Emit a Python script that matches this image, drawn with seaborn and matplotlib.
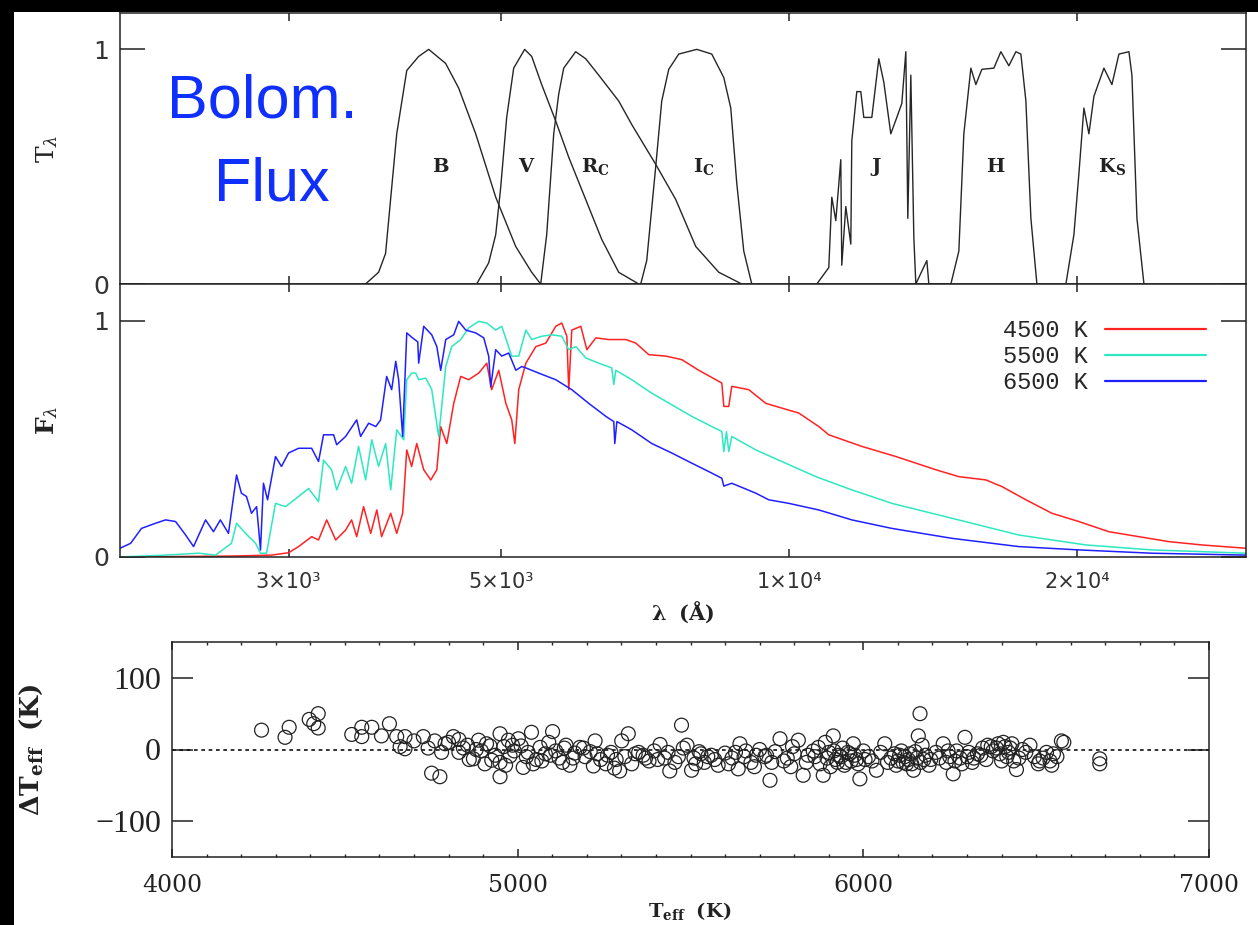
import matplotlib
matplotlib.use("Agg")
import matplotlib.pyplot as plt
import seaborn as sns
import pandas as pd
from matplotlib.patches import Rectangle
from matplotlib.lines import Line2D
from matplotlib.ticker import NullLocator, FixedLocator, MultipleLocator

# ---------------- data: filter transmission curves ----------------
B_wl = [3610, 3725, 3788, 3834, 3891, 3986, 4102, 4202, 4377, 4516, 4705, 4937, 5180, 5383, 5501]
B_tr = [0.0, 0.05, 0.13, 0.36, 0.64, 0.91, 0.97, 1.0, 0.94, 0.835, 0.64, 0.37, 0.16, 0.05, 0.0]
V_wl = [4716, 4854, 4937, 4996, 5069, 5155, 5293, 5383, 5514, 5703, 5885, 6130, 6371, 6636, 6964]
V_tr = [0.0, 0.09, 0.21, 0.41, 0.71, 0.92, 1.0, 0.97, 0.85, 0.695, 0.54, 0.36, 0.19, 0.05, 0.0]
R_wl = [5501, 5581, 5676, 5745, 5814, 5984, 6130, 6325, 6636, 6847, 7254, 7612, 7987, 8442, 8922]
R_tr = [0.0, 0.21, 0.64, 0.81, 0.92, 0.99, 0.96, 0.89, 0.78, 0.68, 0.51, 0.36, 0.16, 0.05, 0.0]
I_wl = [6997, 7099, 7254, 7360, 7485, 7667, 8007, 8301, 8544, 8689, 8815, 8965, 9139]
I_tr = [0.0, 0.10, 0.50, 0.78, 0.915, 0.98, 1.0, 0.98, 0.88, 0.75, 0.43, 0.14, 0.0]
J_wl = [10686, 10999, 11079, 11186, 11321, 11348, 11458, 11597, 11625, 11765, 11879, 11965, 12198,
        12405, 12555, 12768, 12954, 13111, 13238, 13301, 13398, 13495, 13560, 13924, 13991, 14575]
J_tr = [0.0, 0.07, 0.37, 0.27, 0.53, 0.08, 0.33, 0.17, 0.61, 0.82, 0.82, 0.71, 0.71,
        0.96, 0.86, 0.64, 0.71, 0.77, 0.99, 0.28, 0.89, 0.20, 0.0, 0.10, 0.0, 0.0]
H_wl = [14752, 15038, 15220, 15479, 15666, 15894, 16360, 16637, 16961, 17249, 17458, 17669, 17883, 18143]
H_tr = [0.0, 0.14, 0.64, 0.92, 0.85, 0.915, 0.92, 0.99, 0.93, 0.99, 0.98, 0.78, 0.28, 0.0]
K_wl = [19454, 19832, 20072, 20315, 20561, 20810, 21317, 21731, 22100, 22638, 22802, 23078, 23470]
K_tr = [0.0, 0.21, 0.47, 0.75, 0.64, 0.80, 0.92, 0.85, 0.98, 0.99, 0.89, 0.28, 0.0]

band_names = [r"$\mathbf{B}$", r"$\mathbf{V}$", r"$\mathbf{R_C}$", r"$\mathbf{I_C}$",
              r"$\mathbf{J}$", r"$\mathbf{H}$", r"$\mathbf{K_S}$"]
band_label_wl = [4325, 5319, 6280, 8143, 12316, 16440, 21731]
band_label_y = 0.50

# ---------------- data: normalised model spectra ----------------
T6500_wl = [2000, 2052, 2106, 2179, 2232, 2286, 2342, 2387, 2457, 2504, 2546, 2596, 2647, 2678, 2711,
            2744, 2778, 2804, 2824, 2852, 2907, 2949, 3000, 3073, 3171, 3224, 3263, 3343, 3368, 3441,
            3534, 3567, 3637, 3700, 3743, 3798, 3844, 3882, 3909, 3947, 3986, 4033, 4093, 4102, 4152,
            4233, 4285, 4325, 4378, 4463, 4516, 4594, 4706, 4797, 4854, 4878, 4937, 5009, 5094, 5182,
            5256, 5308, 5475, 5704, 5928, 6175, 6434, 6558, 6574, 6607, 6848, 7186, 7540, 7911, 8301,
            8504, 8545, 8710, 9229, 9520, 9990, 10738, 11625, 12800, 14787, 17373, 20070, 23924, 30000]
T6500_fl = [0.037, 0.058, 0.121, 0.143, 0.157, 0.15, 0.093, 0.044, 0.157, 0.107, 0.157, 0.10, 0.347, 0.27, 0.256,
            0.185, 0.213, 0.03, 0.312, 0.242, 0.425, 0.383, 0.44, 0.46, 0.46, 0.404, 0.517, 0.517, 0.475, 0.51,
            0.58, 0.51, 0.566, 0.552, 0.58, 0.764, 0.708, 0.828, 0.75, 0.51, 0.948, 0.93, 0.91, 0.82, 0.976,
            0.94, 0.89, 0.79, 0.92, 0.94, 0.997, 0.96, 0.948, 0.927, 0.85, 0.72, 0.877, 0.85, 0.863, 0.79,
            0.806, 0.80, 0.778, 0.75, 0.708, 0.65, 0.595, 0.573, 0.48, 0.573, 0.538, 0.48, 0.44, 0.397, 0.355,
            0.333, 0.30, 0.312, 0.27, 0.242, 0.227, 0.199, 0.157, 0.121, 0.079, 0.044, 0.03, 0.016, 0.008]

T5500_wl = [2000, 2232, 2415, 2517, 2615, 2647, 2705, 2771, 2804, 2845, 2907, 2978, 3073, 3148, 3224,
            3263, 3327, 3368, 3441, 3491, 3550, 3611, 3664, 3725, 3789, 3835, 3891, 3957, 3986, 4033,
            4073, 4102, 4173, 4233, 4304, 4378, 4441, 4538, 4626, 4739, 4832, 4937, 5009, 5131, 5218,
            5308, 5384, 5515, 5649, 5787, 5885, 5986, 6132, 6325, 6526, 6558, 6590, 6848, 7186, 7540,
            7911, 8301, 8504, 8545, 8600, 8647, 8710, 9229, 9823, 10662, 11625, 12800, 14787, 17373,
            20415, 23924, 30000]
T5500_fl = [0.0, 0.008, 0.016, 0.008, 0.058, 0.143, 0.10, 0.058, 0.016, 0.016, 0.227, 0.213, 0.256, 0.29, 0.234,
            0.41, 0.369, 0.284, 0.383, 0.312, 0.468, 0.326, 0.496, 0.383, 0.48, 0.284, 0.538, 0.496, 0.75, 0.778,
            0.778, 0.75, 0.757, 0.708, 0.51, 0.806, 0.89, 0.92, 0.969, 0.997, 0.99, 0.96, 0.976, 0.85, 0.85,
            0.96, 0.92, 0.934, 0.94, 0.934, 0.877, 0.89, 0.842, 0.82, 0.80, 0.73, 0.79, 0.75, 0.693, 0.644,
            0.595, 0.552, 0.531, 0.446, 0.53, 0.446, 0.51, 0.453, 0.404, 0.34, 0.284, 0.227, 0.164, 0.093,
            0.051, 0.03, 0.016]

T4500_wl = [2000, 2615, 2879, 3000, 3073, 3171, 3224, 3288, 3360, 3441, 3491, 3534, 3593, 3655, 3709,
            3752, 3835, 3891, 3947, 3986, 4033, 4083, 4152, 4223, 4285, 4325, 4389, 4463, 4538, 4626,
            4739, 4832, 4889, 4973, 5059, 5131, 5169, 5218, 5308, 5437, 5569, 5704, 5787, 5858, 5885,
            5928, 6058, 6147, 6281, 6479, 6751, 6915, 7134, 7433, 7723, 8045, 8383, 8504, 8545, 8647,
            8710, 9073, 9454, 9823, 10233, 10738, 10999, 11908, 12926, 14232, 15038, 16050, 16678,
            17672, 18809, 20070, 21572, 23186, 24921, 26982, 30000]
T4500_fl = [0.0, 0.004, 0.008, 0.018, 0.044, 0.086, 0.072, 0.157, 0.072, 0.114, 0.157, 0.086, 0.213, 0.10, 0.199,
            0.086, 0.185, 0.10, 0.185, 0.453, 0.383, 0.48, 0.369, 0.326, 0.369, 0.552, 0.48, 0.65, 0.764, 0.75,
            0.778, 0.82, 0.708, 0.79, 0.65, 0.58, 0.48, 0.708, 0.82, 0.89, 0.905, 0.976, 0.99, 0.934, 0.708,
            0.96, 0.976, 0.877, 0.927, 0.92, 0.92, 0.905, 0.856, 0.85, 0.835, 0.79, 0.75, 0.736, 0.637, 0.637,
            0.722, 0.708, 0.65, 0.63, 0.609, 0.552, 0.517, 0.468, 0.425, 0.369, 0.34, 0.326, 0.298,
            0.242, 0.185, 0.15, 0.107, 0.086, 0.065, 0.051, 0.037]

spec_labels = ["4500 K", "5500 K", "6500 K"]
spec_colors = ["#ff2222", "#2de8c0", "#2020ff"]

# ---------------- data: Teff residuals ----------------
Teff = [4259, 4327, 4339, 4397, 4410, 4423, 4423, 4520, 4549, 4549, 4578, 4606, 4629, 4650, 4660,
        4674, 4674, 4700, 4727, 4741, 4751, 4760, 4775, 4780, 4790, 4800, 4814, 4830, 4843, 4855,
        4872, 4887, 4895, 4905, 4920, 4935, 4949, 4949, 4949, 4960, 4973, 4978, 4990, 5002, 5010,
        5016, 5025, 5040, 5054, 5065, 5080, 5090, 5101, 5110, 5120, 5135, 5151, 5165, 5180, 5195,
        5210, 5224, 5219, 5240, 5255, 5270, 5280, 5295, 5301, 5310, 5320, 5340, 5363, 5380, 5395,
        5412, 5425, 5440, 5455, 5474, 5479, 5490, 5503, 5510, 5525, 5540, 5560, 5580, 5600, 5620,
        5643, 5638, 5660, 5675, 5690, 5700, 5715, 5730, 5745, 5759, 5770, 5790, 5800, 5812, 5826,
        5840, 5855, 5870, 5884, 5890, 5900, 5913, 5920, 5930, 5940, 5950, 5960, 5971, 5980, 5990,
        6000, 6015, 6038, 6050, 6062, 6080, 6090, 6100, 6110, 6120, 6130, 6140, 6145, 6150, 6159,
        6164, 6170, 6180, 6195, 6210, 6231, 6240, 6250, 6260, 6270, 6280, 6294, 6305, 6315, 6330,
        6345, 6360, 6375, 6390, 6400, 6410, 6420, 6430, 6443, 6450, 6460, 6482, 6495, 6506, 6520,
        6540, 6550, 6573, 6580, 6684, 6684,
        4830, 4860, 4880, 4910, 4925, 4965, 4985, 5030, 5045, 5070, 5095, 5130, 5140, 5160, 5190,
        5230, 5260, 5285, 5330, 5350, 5370, 5405, 5435, 5465, 5515, 5530, 5550, 5570, 5610, 5630,
        5655, 5685, 5720, 5735, 5780, 5795, 5835, 5860, 5875, 5895, 5905, 5915, 5925, 5935, 5945,
        5955, 5965, 5975, 5985, 6005, 6025, 6070, 6095, 6105, 6115, 6125, 6135, 6155, 6165, 6175,
        6190, 6220, 6245, 6265, 6285, 6300, 6320, 6340, 6355, 6370, 6385, 6395, 6405, 6415, 6425,
        6435, 6470, 6510, 6530, 6545, 6560]
dTeff = [27, 17, 31, 42, 36, 50, 30, 21, 31, 18, 31, 19, 36, 18, 4,
         18, 1, 12, 18, 2, -33, 12, -38, -4, 8, 10, 18, 14, 2, 6,
         -13, 13, -2, -20, 5, -8, 22, -18, -38, 4, 13, -9, -2, 15, 5,
         -25, -10, 24, -14, 3, -6, 10, 25, -2, -12, 2, -22, -5, 3, -10,
         -3, 12, -23, -14, -20, -4, -26, -30, 12, -10, 22, -6, -8, -16, -2,
         7, -12, -30, -18, 34, 2, 6, -29, -12, -3, -18, -8, -22, -5, -12,
         8, -27, -2, -18, -8, 0, -10, -43, -3, 15, -16, -24, -6, 13, -36,
         -8, -2, 3, -36, 10, -4, 19, -14, -8, 2, -18, -6, 8, -14, -41,
         -2, -10, -29, -4, 8, -12, -6, -16, -2, -10, -14, -20, -29, -3, 19,
         50, 6, -8, -14, -4, 8, -18, -10, -34, -2, -12, 17, -4, -18, -6,
         2, 6, -2, 8, -16, 4, -4, 8, -28, -12, 0, 6, -10, -20, -12,
         -16, -6, 12, 10, -13, -20,
         -4, -14, 0, 8, -15, -22, 6, -4, -20, -16, -8, -18, 6, -12, 2,
         -6, -8, -14, -20, -4, -12, -14, -4, -10, -20, -6, -10, -14, -20, -4,
         -10, -24, -8, -18, -12, 4, -18, -10, -20, -12, -24, -2, -18, -10, -22,
         -4, -16, -8, -20, -14, -16, -18, -22, -8, -18, -20, -6, -12, -18, -14,
         -22, -12, -2, -16, -20, -10, -12, -8, -14, 4, 2, -6, 10, -10, 2,
         -16, -4, -16, -4, -22, -10]

# ---------------- style ----------------
sns.set_style("ticks")
plt.rcParams["font.family"] = ["DejaVu Sans"]
plt.rcParams["mathtext.fontset"] = "dejavuserif"
plt.rcParams["axes.linewidth"] = 1.1
plt.rcParams["axes.edgecolor"] = "#222222"

W, H = 1258, 925
fig = plt.figure(figsize=(W / 100, H / 100), dpi=100, facecolor="black")
fig.add_artist(Rectangle((14 / W, 0), 1 - 14 / W, 1 - 12 / H, transform=fig.transFigure,
                         facecolor="white", edgecolor="none", zorder=-10))

ax1 = fig.add_axes([120 / W, 1 - 284 / H, 1126 / W, 271 / H])
ax2 = fig.add_axes([120 / W, 1 - 557 / H, 1126 / W, 273 / H])
ax3 = fig.add_axes([172 / W, 1 - 857 / H, 1037 / W, 215 / H])
for a in (ax1, ax2, ax3):
    a.set_facecolor("white")

# ---------- top panel: filters ----------
filters = [(B_wl, B_tr), (V_wl, V_tr), (R_wl, R_tr), (I_wl, I_tr),
           (J_wl, J_tr), (H_wl, H_tr), (K_wl, K_tr)]
for wl, tr in filters:
    sns.lineplot(x=wl, y=tr, ax=ax1, color="#262626", lw=1.0, estimator=None, sort=False, legend=False)
for name, wl in zip(band_names, band_label_wl):
    ax1.text(wl, band_label_y, name, ha="center", va="center", fontsize=14, color="#222222")

# ---------- middle panel: spectra ----------
spectra = [(T4500_wl, T4500_fl), (T5500_wl, T5500_fl), (T6500_wl, T6500_fl)]
for (wl, fl), c in zip(spectra, spec_colors):
    sns.lineplot(x=wl, y=fl, ax=ax2, color=c, lw=1.1, estimator=None, sort=False, legend=False)
handles = [Line2D([], [], color=c, lw=1.6) for c in spec_colors]
ax2.legend(handles, spec_labels, loc="upper right", bbox_to_anchor=(0.973, 0.905),
           markerfirst=False, frameon=False, handlelength=4.3, handletextpad=0.7,
           labelspacing=0.12, borderaxespad=0.0,
           prop={"family": "Liberation Mono", "size": 17})

for a in (ax1, ax2):
    a.set_xscale("log")
    a.set_xlim(2000, 30000)
    a.set_ylim(0, 1.155)
    a.xaxis.set_major_locator(FixedLocator([3000, 5000, 10000, 20000]))
    a.xaxis.set_minor_locator(NullLocator())
    a.set_yticks([0, 1])
    a.set_yticklabels(["0", "1"])
    a.tick_params(axis="x", which="major", direction="in", length=6, width=1.1,
                  top=True, bottom=True, color="#222222")
    a.tick_params(axis="y", which="major", direction="in", length=18, width=1.1,
                  left=True, right=True, labelsize=18, labelcolor="#333333", pad=8, color="#222222")
    a.set_xlabel("")
    a.set_ylabel("")

ax1.tick_params(axis="x", labelbottom=False)
ax2.set_xticklabels(["3×10³", "5×10³", "1×10⁴", "2×10⁴"], fontsize=15, color="#333333")
ax2.tick_params(axis="x", pad=11)

ax1.set_ylabel(r"$\mathrm{T}_\lambda$", fontsize=18, color="#222222")
ax1.yaxis.set_label_coords(-0.053, 0.5)
ax2.set_ylabel(r"$\mathbf{F}_\lambda$", fontsize=18, color="#222222")
ax2.yaxis.set_label_coords(-0.053, 0.5)
ax2.set_xlabel(r"$\mathbf{\lambda\ \ (\AA)}$", fontsize=15, color="#222222")
ax2.xaxis.set_label_coords(0.5, -0.155)

fig.text(262 / W, 1 - 102 / H, "Bolom.", ha="center", va="center", fontsize=44,
         family="Liberation Sans", color="#0f2fff")
fig.text(272 / W, 1 - 185 / H, "Flux", ha="center", va="center", fontsize=44,
         family="Liberation Sans", color="#0f2fff")

# ---------- bottom panel: residuals ----------
df = pd.DataFrame({"Teff": Teff, "dTeff": dTeff})
sns.scatterplot(data=df, x="Teff", y="dTeff", ax=ax3, marker="o", s=100,
                facecolor="none", edgecolor="#222222", linewidth=0.9, legend=False, zorder=3)
ax3.axhline(0, color="#111111", lw=1.2, ls=(0, (2.2, 2.2)), zorder=2)
ax3.set_xlim(4000, 7000)
ax3.set_ylim(-150, 150)
ax3.xaxis.set_major_locator(MultipleLocator(1000))
ax3.xaxis.set_minor_locator(MultipleLocator(100))
ax3.set_yticks([-100, 0, 100])
ax3.tick_params(axis="x", which="major", direction="in", length=6, width=1.1, top=True, bottom=True,
                labelsize=17, pad=12, color="#222222", labelcolor="#222222")
ax3.tick_params(axis="x", which="minor", direction="in", length=2.5, width=1.0, top=True, bottom=True,
                color="#222222")
ax3.tick_params(axis="y", which="major", direction="in", length=15, width=1.1, left=True, right=True,
                labelsize=23, pad=8, color="#222222", labelcolor="#222222")
for lab in ax3.get_xticklabels():
    lab.set_family("DejaVu Serif")
for lab in ax3.get_yticklabels():
    lab.set_family("Liberation Serif")
ax3.set_ylabel(r"$\mathbf{\Delta T_{eff}\ \ (K)}$", fontsize=19, color="#222222")
ax3.yaxis.set_label_coords(-0.1225, 0.5)
ax3.set_xlabel(r"$\mathbf{T_{eff}\ \ (K)}$", fontsize=14, color="#222222")
ax3.xaxis.set_label_coords(0.4995, -0.2)

fig.savefig("out.png", dpi=100, facecolor=fig.get_facecolor())
